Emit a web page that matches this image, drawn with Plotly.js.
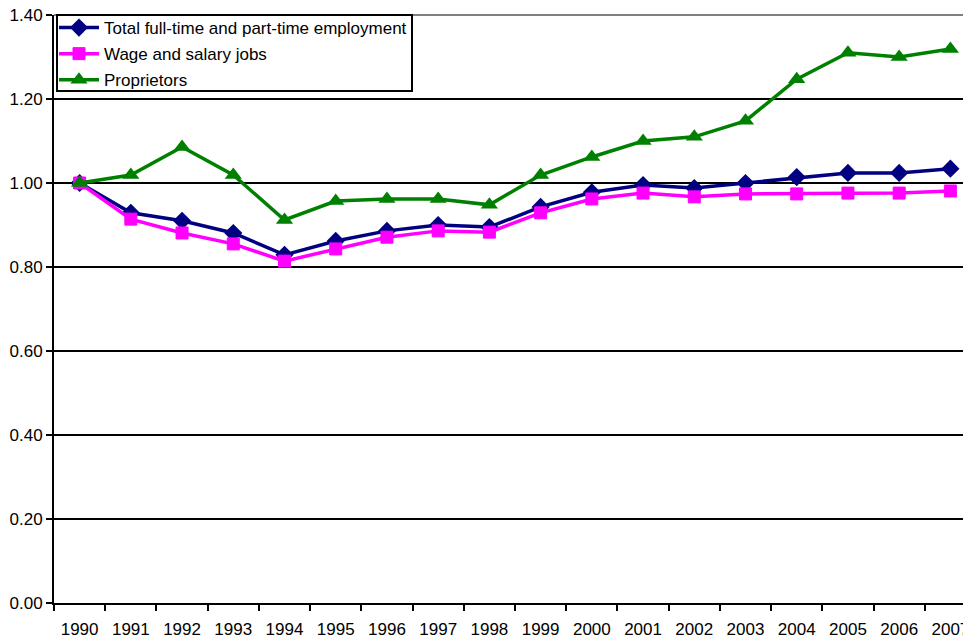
<!DOCTYPE html>
<html>
<head>
<meta charset="utf-8">
<script src="https://cdn.plot.ly/plotly-3.0.1.min.js"></script>
<style>
html, body { margin: 0; padding: 0; overflow: hidden; background: #fff; }
#chart { width: 990px; height: 639px; }
</style>
</head>
<body>
<div id="chart"></div>
<script>
const years = ["1990","1991","1992","1993","1994","1995","1996","1997","1998","1999","2000","2001","2002","2003","2004","2005","2006","2007"];
const totalEmployment = [1.000, 0.929, 0.910, 0.881, 0.829, 0.862, 0.886, 0.900, 0.895, 0.943, 0.978, 0.995, 0.988, 1.000, 1.014, 1.024, 1.024, 1.034];
const wageSalary = [1.000, 0.914, 0.881, 0.855, 0.814, 0.843, 0.871, 0.886, 0.883, 0.929, 0.962, 0.976, 0.967, 0.974, 0.974, 0.976, 0.976, 0.981];
const proprietors = [1.000, 1.019, 1.086, 1.019, 0.912, 0.957, 0.962, 0.962, 0.948, 1.019, 1.062, 1.100, 1.110, 1.148, 1.247, 1.310, 1.300, 1.319];
const seriesNames = ["Total full-time and part-time employment", "Wage and salary jobs", "Proprietors"];

const traces = [
  {
    x: years, y: totalEmployment, name: seriesNames[0], legendgroup: 'a', type: 'scatter', mode: 'lines+markers',
    line: {color: '#000080', width: 3.5},
    marker: {symbol: 'diamond', size: 14, color: '#000080'}
  },
  {
    x: years, y: wageSalary, name: seriesNames[1], legendgroup: 'b', type: 'scatter', mode: 'lines+markers',
    line: {color: '#FF00FF', width: 3.5},
    marker: {symbol: 'square', size: 12, color: '#FF00FF', line: {color: '#FF00FF', width: 1}}
  },
  {
    x: years, y: proprietors, name: seriesNames[2], legendgroup: 'c', type: 'scatter', mode: 'lines+markers',
    line: {color: '#008000', width: 3.5},
    marker: {symbol: 'triangle-up', size: 15, color: '#008000'}
  }
];

const plotH = 639 - 15 - 36;
const plotW = 990 - 54 - 14;

const layout = {
  width: 990, height: 639,
  margin: {l: 54, r: 14, t: 15, b: 36, autoexpand: false},
  paper_bgcolor: '#fff', plot_bgcolor: '#fff',
  font: {family: 'Liberation Sans, Arial, sans-serif', size: 17, color: '#000'},
  showlegend: true,
  legend: {
    x: 0.0, y: 1 + 5 / plotH, xanchor: 'left', yanchor: 'top',
    bgcolor: 'rgba(0,0,0,0)', borderwidth: 0,
    traceorder: 'grouped', tracegroupgap: 1,
    font: {size: 17}, itemwidth: 40
  },
  xaxis: {
    type: 'category', range: [-0.5, 17.5],
    tickson: 'boundaries', ticks: 'outside', ticklen: 6, tickwidth: 2, tickcolor: '#000',
    showline: true, linecolor: '#000', linewidth: 2,
    showgrid: false, zeroline: false, fixedrange: true,
    ticklabelstandoff: 10,
    tickfont: {size: 17}
  },
  yaxis: {
    range: [0, 1.4], dtick: 0.2, tick0: 0, tickformat: '.2f',
    ticks: 'outside', ticklen: 6, tickwidth: 2, tickcolor: '#000',
    showline: true, linecolor: '#000', linewidth: 2,
    showgrid: true, gridcolor: '#000', gridwidth: 1.5,
    zeroline: false, fixedrange: true,
    tickfont: {size: 17}
  },
  shapes: [
    {type: 'line', xref: 'paper', yref: 'paper', x0: 0, x1: 1, y0: 1, y1: 1,
     line: {color: '#808080', width: 2}, layer: 'above'},
    {type: 'rect', xref: 'paper', yref: 'paper',
     x0: 3 / plotW, x1: 358 / plotW, y0: 1 - 76 / plotH, y1: 1,
     fillcolor: '#fff', line: {color: '#000', width: 2}, layer: 'above'}
  ]
};

Plotly.newPlot('chart', traces, layout, {displayModeBar: false, staticPlot: true});
</script>
</body>
</html>
